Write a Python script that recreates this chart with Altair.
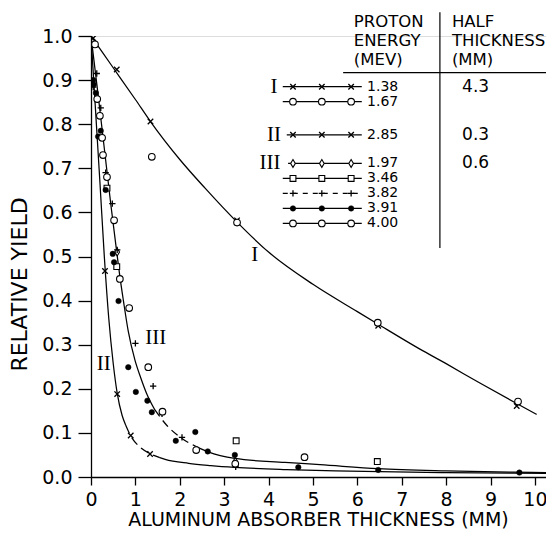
import altair as alt
import pandas as pd

# ---------------- data ----------------
energies = ["1.38", "1.67", "2.85", "1.97", "3.46", "3.82", "3.91", "4.00"]
group_labels = ["I", "", "II", "III", "", "", "", ""]
half_thickness = ["4.3", "", "0.3", "0.6", "", "", "", ""]

# measured points (thickness mm, relative yield)
p138_x = [0.05, 0.58, 1.34, 3.29, 6.47, 9.59]
p138_y = [0.995, 0.924, 0.806, 0.582, 0.343, 0.161]
p167_x = [0.09, 1.37, 3.29, 6.46, 9.62]
p167_y = [0.981, 0.726, 0.577, 0.350, 0.171]
p285_x = [0.315, 0.59, 0.895, 1.33]
p285_y = [0.467, 0.188, 0.094, 0.052]
p197_x = [0.59, 3.25]
p197_y = [0.510, 0.035]
p346_x = [0.36, 0.58, 3.27, 6.45]
p346_y = [0.655, 0.477, 0.082, 0.035]
p382_x = [0.05, 0.13, 0.22, 0.33, 0.48, 0.59, 1.00, 1.40, 1.60, 2.05, 3.26]
p382_y = [0.884, 0.915, 0.837, 0.690, 0.620, 0.515, 0.303, 0.206, 0.143, 0.090, 0.023]
p391_x = [0.05, 0.06, 0.11, 0.16, 0.22, 0.33, 0.49, 0.52, 0.62, 0.84, 1.01, 1.27,
          1.37, 1.91, 2.35, 2.63, 3.24, 4.67, 6.47, 9.65]
p391_y = [0.900, 0.890, 0.871, 0.772, 0.785, 0.651, 0.506, 0.487, 0.399, 0.249,
          0.193, 0.173, 0.147, 0.082, 0.102, 0.058, 0.050, 0.022, 0.016, 0.010]
p400_x = [0.14, 0.20, 0.25, 0.27, 0.36, 0.52, 0.65, 0.86, 1.29, 1.61, 2.37, 3.25, 4.81]
p400_y = [0.857, 0.819, 0.769, 0.730, 0.680, 0.582, 0.449, 0.383, 0.249, 0.148, 0.061, 0.030, 0.045]

points = {
    "1.38": (p138_x, p138_y), "1.67": (p167_x, p167_y), "2.85": (p285_x, p285_y),
    "1.97": (p197_x, p197_y), "3.46": (p346_x, p346_y), "3.82": (p382_x, p382_y),
    "3.91": (p391_x, p391_y), "4.00": (p400_x, p400_y),
}

# drawn curves
c1_x = [0, 0.5, 1.0, 1.34, 2.0, 2.57, 3.29, 4.0, 5.0, 6.0, 6.46, 7.41, 8.0, 8.76, 9.6, 10.04]
c1_y = [1.0, 0.928, 0.856, 0.806, 0.72, 0.655, 0.578, 0.51, 0.437, 0.375, 0.347, 0.29,
        0.257, 0.213, 0.166, 0.142]
c2_x = [0, 0.1, 0.2, 0.3, 0.4, 0.5, 0.59, 0.7, 0.78, 0.89, 1.1, 1.33, 1.55, 1.67, 2.2,
        2.7, 3.24, 4.4, 5.5, 6.5, 8.0, 10.25]
c2_y = [1.0, 0.835, 0.67, 0.50, 0.36, 0.258, 0.19, 0.14, 0.118, 0.094, 0.068, 0.053,
        0.044, 0.040, 0.031, 0.026, 0.022, 0.017, 0.014, 0.012, 0.010, 0.008]
c3_x = [0, 0.15, 0.3, 0.45, 0.58, 0.65, 0.73, 0.84, 0.99, 1.12, 1.25, 1.44, 1.7, 2.04,
        2.35, 2.64, 3.24, 4.37, 5.16, 6.47, 8.0, 9.51, 10.25]
c3_y = [1.0, 0.875, 0.745, 0.615, 0.51, 0.455, 0.40, 0.33, 0.265, 0.225, 0.19, 0.152,
        0.118, 0.088, 0.07, 0.057, 0.042, 0.033, 0.028, 0.019, 0.014, 0.011, 0.010]

# ---------------- styling ----------------
FONT = "DejaVu Sans"
SERIF = "Liberation Serif"
XS = alt.Scale(domain=[0, 10.25], nice=False, zero=False)
YS = alt.Scale(domain=[0, 1.0], nice=False, zero=False)
XPATH = "M-1,-1L1,1M-1,1L1,-1"
PPATH = "M-1,0L1,0M0,-1L0,1"
DPATH = "M0,-1L0.6,0L0,1L-0.6,0Z"
open_kw = dict(filled=False, fill="white", fillOpacity=1, stroke="black", strokeWidth=1.1, opacity=1)
line_kw = dict(filled=False, stroke="black", strokeWidth=1.3, opacity=1)
STYLE = {
    "1.38": dict(shape=XPATH, size=30, **line_kw),
    "1.67": dict(shape="circle", size=44, **open_kw),
    "2.85": dict(shape=XPATH, size=30, **line_kw),
    "1.97": dict(shape=DPATH, size=60, **open_kw),
    "3.46": dict(shape="square", size=34, **open_kw),
    "3.82": dict(shape=PPATH, size=40, **line_kw),
    "3.91": dict(shape="circle", size=30, filled=True, fill="black", stroke="black",
                 strokeWidth=0.5, opacity=1),
    "4.00": dict(shape="circle", size=44, **open_kw),
}

xaxis = alt.Axis(values=list(range(11)), title="ALUMINUM ABSORBER THICKNESS  (MM)",
                 tickSize=8, labelPadding=5, labelFontSize=19, labelFont=FONT,
                 titleFont=FONT, titleFontSize=19, titleFontWeight="normal",
                 titleX=227, titleY=42, titleAlign="center", titleBaseline="middle",
                 grid=False, domainColor="black", tickColor="black", labelColor="black",
                 titleColor="black", domainWidth=1.3, tickWidth=1.3, labelFlush=False,
                 labelOverlap=False)
yaxis = alt.Axis(values=[i / 10 for i in range(11)], format=".1f",
                 title="RELATIVE  YIELD", tickSize=13, labelPadding=6, labelFontSize=19,
                 labelFont=FONT, titleFont=FONT, titleFontSize=22, titleFontWeight="normal",
                 titleX=-72, titleY=248, titleAngle=270, titleAlign="center",
                 titleBaseline="middle", grid=False, domainColor="black", tickColor="black",
                 labelColor="black", titleColor="black", domainWidth=1.3, tickWidth=1.3,
                 labelFlush=False, labelOverlap=False)


def X(field="x"):
    return alt.X(f"{field}:Q", scale=XS, axis=xaxis)


def Y(field="y"):
    return alt.Y(f"{field}:Q", scale=YS, axis=yaxis)


layers = []


def curve_layer(xs, ys, lo, hi, dash=None):
    df = pd.DataFrame({"x": xs, "y": ys})
    df = df[(df.x >= lo) & (df.x <= hi)]
    kw = dict(color="black", strokeWidth=1.25, interpolate="monotone", clip=True)
    if dash:
        kw["strokeDash"] = dash
    return alt.Chart(df).mark_line(**kw).encode(x=X(), y=Y(), order="x:Q")


layers.append(curve_layer(c1_x, c1_y, 0, 11))
layers.append(curve_layer(c2_x, c2_y, 0, 0.78))
layers.append(curve_layer(c2_x, c2_y, 0.78, 1.55, [9, 5]))
layers.append(curve_layer(c2_x, c2_y, 1.55, 11))
layers.append(curve_layer(c3_x, c3_y, 0, 1.44))
layers.append(curve_layer(c3_x, c3_y, 1.44, 2.35, [8, 5]))
layers.append(curve_layer(c3_x, c3_y, 2.35, 11))

# data points
for e in energies:
    xs, ys = points[e]
    df = pd.DataFrame({"x": xs, "y": ys})
    layers.append(alt.Chart(df).mark_point(clip=True, **STYLE[e]).encode(x=X(), y=Y()))

# curve labels
curve_lab = pd.DataFrame({"x": [3.69, 0.29, 1.46], "y": [0.503, 0.256, 0.315],
                          "t": ["I", "II", "III"]})
layers.append(alt.Chart(curve_lab).mark_text(font=SERIF, fontSize=21, color="black",
                                             align="center", baseline="middle")
              .encode(x=X(), y=Y(), text="t:N"))

# ---------------- legend table (in data units) ----------------
row_y = [0.885, 0.851, 0.776, 0.711, 0.677, 0.643, 0.609, 0.575]
line_x0 = [4.32, 4.32, 4.41, 4.44, 4.32, 4.32, 4.32, 4.32]
line_x1 = 6.10
mark_x = [4.55, 5.20, 5.86]

for i, e in enumerate(energies):
    rdf = pd.DataFrame({"x": [line_x0[i]], "x2": [line_x1], "y": [row_y[i]]})
    rk = dict(color="black", strokeWidth=1.2)
    if e == "3.82":
        rk["strokeDash"] = [5, 5]
    layers.append(alt.Chart(rdf).mark_rule(**rk).encode(x=X(), x2="x2:Q", y=Y()))
    mdf = pd.DataFrame({"x": mark_x, "y": [row_y[i]] * 3})
    layers.append(alt.Chart(mdf).mark_point(**STYLE[e]).encode(x=X(), y=Y()))

energy_df = pd.DataFrame({"x": [6.22] * 8, "y": row_y, "t": energies})
layers.append(alt.Chart(energy_df).mark_text(font=FONT, fontSize=14, color="black",
                                             align="left", baseline="middle")
              .encode(x=X(), y=Y(), text="t:N"))

ht_df = pd.DataFrame({"x": [8.36] * 8, "y": row_y, "t": half_thickness})
ht_df = ht_df[ht_df.t != ""]
layers.append(alt.Chart(ht_df).mark_text(font=FONT, fontSize=17, color="black",
                                         align="left", baseline="middle")
              .encode(x=X(), y=Y(), text="t:N"))

num_x = [4.12, 0, 4.12, 4.03, 0, 0, 0, 0]
num_df = pd.DataFrame({"x": num_x, "y": row_y, "t": group_labels})
num_df = num_df[num_df.t != ""]
layers.append(alt.Chart(num_df).mark_text(font=SERIF, fontSize=21, color="black",
                                          align="center", baseline="middle")
              .encode(x=X(), y=Y(), text="t:N"))

head_df = pd.DataFrame({
    "x": [5.92, 5.92, 5.92, 8.13, 8.13, 8.13],
    "y": [1.031, 0.989, 0.946, 1.031, 0.989, 0.946],
    "t": ["PROTON", "ENERGY", "(MEV)", "HALF", "THICKNESS", "(MM)"],
})
layers.append(alt.Chart(head_df).mark_text(font=FONT, fontSize=16.5, color="black",
                                           align="left", baseline="middle")
              .encode(x=X(), y=Y(), text="t:N"))

vrule = pd.DataFrame({"x": [7.86], "y": [1.054], "y2": [0.519]})
layers.append(alt.Chart(vrule).mark_rule(color="black", strokeWidth=1.2)
              .encode(x=X(), y=Y(), y2="y2:Q"))
hrule = pd.DataFrame({"x": [5.68], "x2": [10.25], "y": [0.917]})
layers.append(alt.Chart(hrule).mark_rule(color="black", strokeWidth=1.2)
              .encode(x=X(), x2="x2:Q", y=Y()))

chart = alt.layer(*layers).properties(
    width=455, height=441,
    padding={"left": 83, "top": 28, "right": 0, "bottom": 58},
    autosize=alt.AutoSizeParams(type="none"),
).configure_view(stroke=None).configure(background="white")

chart.save("out.html", embed_options={"renderer": "svg", "actions": False})
